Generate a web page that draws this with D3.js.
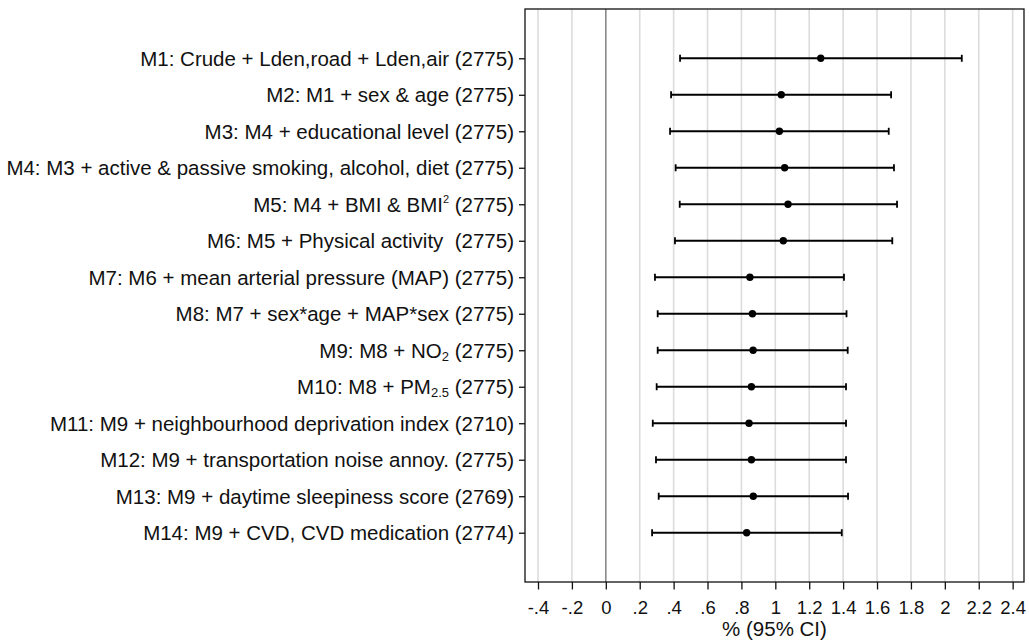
<!DOCTYPE html>
<html><head><meta charset="utf-8">
<script src="https://cdn.jsdelivr.net/npm/d3@7"></script>
<style>body{margin:0;background:#fff;} svg{display:block;font-family:"Liberation Sans",Arial,sans-serif;}</style>
</head><body>
<svg id="c" width="1029" height="644"></svg>
<script>
const models = [
  "M1: Crude + Lden,road + Lden,air (2775)",
  "M2: M1 + sex & age (2775)",
  "M3: M4 + educational level (2775)",
  "M4: M3 + active & passive smoking, alcohol, diet (2775)",
  "M5: M4 + BMI & BMI^{2} (2775)",
  "M6: M5 + Physical activity  (2775)",
  "M7: M6 + mean arterial pressure (MAP) (2775)",
  "M8: M7 + sex*age + MAP*sex (2775)",
  "M9: M8 + NO_{2} (2775)",
  "M10: M8 + PM_{2.5} (2775)",
  "M11: M9 + neighbourhood deprivation index (2710)",
  "M12: M9 + transportation noise annoy. (2775)",
  "M13: M9 + daytime sleepiness score (2769)",
  "M14: M9 + CVD, CVD medication (2774)"
];
const estimate = [1.268, 1.035, 1.024, 1.055, 1.075, 1.047, 0.85, 0.865, 0.869, 0.859, 0.845, 0.859, 0.870, 0.831];
const lower    = [0.438, 0.385, 0.379, 0.412, 0.436, 0.408, 0.29, 0.306, 0.306, 0.300, 0.277, 0.296, 0.312, 0.273];
const upper    = [2.100, 1.683, 1.669, 1.700, 1.718, 1.690, 1.405, 1.420, 1.427, 1.417, 1.417, 1.417, 1.429, 1.392];
const xTicks = [-0.4,-0.2,0,0.2,0.4,0.6,0.8,1,1.2,1.4,1.6,1.8,2,2.2,2.4];
const xTickLabels = ["-.4","-.2","0",".2",".4",".6",".8","1","1.2","1.4","1.6","1.8","2","2.2","2.4"];
const xTitle = "% (95% CI)";

const FONT = "'Liberation Sans', Arial, Helvetica, sans-serif";
const svg = d3.select("#c");
const L = 525, R = 1024, T = 9, B = 582;
const x = d3.scaleLinear().domain([-0.4767, 2.467]).range([L, R]);
const y = d3.scalePoint().domain(models).range([T, B]).padding(1.35);

// gridlines
svg.append("g").selectAll("line").data(xTicks).join("line")
  .attr("x1", d => x(d)).attr("x2", d => x(d)).attr("y1", T).attr("y2", B)
  .attr("stroke", d => d === 0 ? "#8a8a8a" : "#dcdcdc").attr("stroke-width", 1.6);

// frame
svg.append("rect").attr("x", L).attr("y", T).attr("width", R - L).attr("height", B - T)
  .attr("fill", "none").attr("stroke", "#111").attr("stroke-width", 1.3);

// x axis
const xAxis = d3.axisBottom(x).tickValues(xTicks).tickSize(7.5).tickPadding(11)
  .tickFormat((d, i) => xTickLabels[i]);
const gx = svg.append("g").attr("transform", `translate(0,${B})`).call(xAxis);
gx.select(".domain").remove();
gx.selectAll(".tick line").attr("stroke", "#111").attr("stroke-width", 1.3);
gx.selectAll(".tick text").attr("font-size", 18.5).attr("fill", "#111")
  .attr("font-family", FONT);

svg.append("text").attr("x", (L + R) / 2).attr("y", 636).attr("text-anchor", "middle")
  .attr("font-family", FONT).attr("font-size", 20.5).attr("fill", "#111").text(xTitle);

// y axis
const yAxis = d3.axisLeft(y).tickSize(6).tickPadding(4).tickFormat("");
const gy = svg.append("g").attr("transform", `translate(${L},0)`).call(yAxis);
gy.select(".domain").remove();
gy.selectAll(".tick line").attr("stroke", "#111").attr("stroke-width", 1.3);
gy.selectAll(".tick").each(function(d) {
  const t = d3.select(this).append("text").attr("x", -11).attr("dy", "0.35em")
    .attr("text-anchor", "end").attr("font-size", 20.5).attr("fill", "#111")
    .attr("font-family", FONT)
    .style("white-space", "pre");
  const re = /(\^\{[^}]*\}|_\{[^}]*\})/;
  let back = 0;
  d.split(re).forEach(part => {
    if (!part) return;
    if (part.startsWith("^{")) {
      t.append("tspan").attr("font-size", 11).attr("dy", -9).text(part.slice(2, -1));
      back = 9;
    } else if (part.startsWith("_{")) {
      t.append("tspan").attr("font-size", 13).attr("dy", 3).text(part.slice(2, -1));
      back = -3;
    } else {
      const s = t.append("tspan").text(part);
      if (back) { s.attr("dy", back); back = 0; }
    }
  });
});

// error bars
const rows = models.map((m, i) => ({m, e: estimate[i], lo: lower[i], hi: upper[i]}));
const g = svg.append("g");
g.selectAll("line.ci").data(rows).join("line").attr("class", "ci")
  .attr("x1", d => x(d.lo)).attr("x2", d => x(d.hi)).attr("y1", d => y(d.m)).attr("y2", d => y(d.m))
  .attr("stroke", "#000").attr("stroke-width", 1.8);
g.selectAll("line.cl").data(rows).join("line").attr("class", "cl")
  .attr("x1", d => x(d.lo)).attr("x2", d => x(d.lo)).attr("y1", d => y(d.m) - 3.5).attr("y2", d => y(d.m) + 3.5)
  .attr("stroke", "#000").attr("stroke-width", 1.8);
g.selectAll("line.ch").data(rows).join("line").attr("class", "ch")
  .attr("x1", d => x(d.hi)).attr("x2", d => x(d.hi)).attr("y1", d => y(d.m) - 3.5).attr("y2", d => y(d.m) + 3.5)
  .attr("stroke", "#000").attr("stroke-width", 1.8);
g.selectAll("circle").data(rows).join("circle")
  .attr("cx", d => x(d.e)).attr("cy", d => y(d.m)).attr("r", 3.7).attr("fill", "#000");
</script>
</body></html>
